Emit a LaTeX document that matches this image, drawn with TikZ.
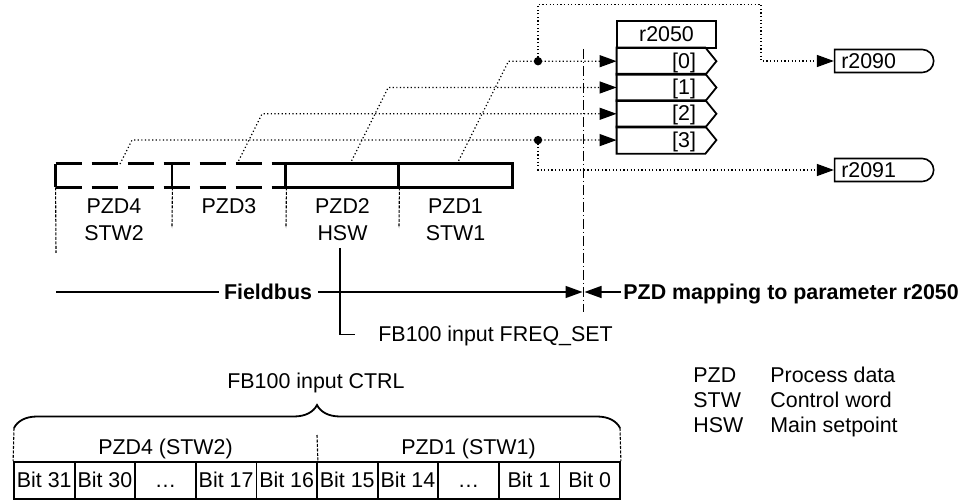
\documentclass[tikz,border=0pt]{standalone}
\usepackage{fontspec}
\setmainfont{Liberation Sans}
\usetikzlibrary{arrows.meta,decorations.pathreplacing,shapes.misc,calc}
\begin{document}
\begin{tikzpicture}[x=0.5pt,y=-0.5pt,
  every node/.style={font=\fontsize{10.7}{12.8}\selectfont, inner sep=0pt, text height=7.6pt, text depth=0.5pt},
  bold/.style={font=\fontsize{10.7}{12.8}\selectfont\bfseries},
  tip/.style={-{Triangle[length=8.5pt,width=6pt]}},
  dotline/.style={line width=0.6pt, dash pattern=on 0.6pt off 1.2pt},
  finedash/.style={line width=0.55pt, dash pattern=on 1.5pt off 0.75pt},
  cell/.style={rectangle, minimum height=11.5pt, draw=none},
  thickline/.style={line width=1.5pt},
  bigdash/.style={line width=1.5pt, dash pattern=on 13pt off 5pt},
  rowbox/.style={rectangle, minimum width=44pt, minimum height=13.2pt, draw=none},
  rowline/.style={line width=0.9pt, line join=miter},
  outbox/.style={rounded rectangle, rounded rectangle left arc=none, draw, line width=0.8pt, minimum width=49.5pt, minimum height=11.5pt},
  bitcell/.style={rectangle, draw, line width=0.9pt, minimum width=30.3pt, minimum height=18.5pt},
  dotnode/.style={circle, fill, inner sep=0pt, minimum size=4.2pt, text height=0pt, text depth=0pt},
  plain/.style={line width=0.7pt},
]
\useasboundingbox (0,0) rectangle (962,501);

% ---------- Fieldbus PZD cells ----------
\node[cell, minimum width=58pt] (p4) at (114,175.5) {};
\node[cell, minimum width=57pt] (p3) at (229,175.5) {};
\node[cell, minimum width=56.5pt] (p2) at (342.5,175.5) {};
\node[cell, minimum width=56.5pt] (p1) at (455.5,175.5) {};

\draw[bigdash] (p4.north west) -- (p3.north east);
\draw[bigdash] (p4.south west) -- (p3.south east);
\draw[thickline] (p4.north west) -- (p4.south west);
\draw[line width=1pt] (p4.north east) -- (p4.south east);
\draw[thickline] (p2.north west) rectangle (p1.south east);
\draw[thickline] (p1.north west) -- (p1.south west);

\coordinate (g4) at (56,253);
\coordinate (g3) at (172,228);
\coordinate (g2) at (286,228);
\coordinate (g1) at (399,228);
\draw[finedash] (p4.south west) -- (g4);
\draw[finedash] (p4.south east) -- (g3);
\draw[finedash] (p3.south east) -- (g2);
\draw[finedash] (p2.south east) -- (g1);

\node (l4a) at (114,206) {PZD4};
\node (l4b) at (114,233.5) {STW2};
\node (l3a) at (229,206) {PZD3};
\node (l2a) at (342.5,206) {PZD2};
\node (l2b) at (342.5,233.5) {HSW};
\node (l1a) at (455.5,206) {PZD1};
\node (l1b) at (455.5,233.5) {STW1};

% ---------- r2050 block ----------
\node[rectangle, draw, line width=1.4pt, minimum width=49.5pt, minimum height=13.5pt] (hd) at (666.5,34.5) {r2050};
\foreach \i/\y in {0/61.2,1/87.5,2/113.8,3/140.1}{
  \node[rowbox] (r\i) at (661,\y) {};
  \draw[rowline] (r\i.north west) -- (r\i.north east) -- ([xshift=5.5pt]r\i.east) -- (r\i.south east) -- (r\i.south west) -- cycle;
  \node[anchor=east] (n\i) at ([xshift=-4.5pt]r\i.east) {[\i]};
}

% ---------- diagonal dotted connectors ----------
\coordinate (t1) at (457,164);
\coordinate (t2) at (350,164);
\coordinate (t3) at (237,164);
\coordinate (t4) at (120,164);
\coordinate (s0) at (508.5,61.2);
\coordinate (s1) at (388.2,87.5);
\coordinate (s2) at (262.1,113.8);
\coordinate (s3) at (132,140.1);
\draw[dotline, tip] (t1) -- (s0) -- (r0.west);
\draw[dotline, tip] (t2) -- (s1) -- (r1.west);
\draw[dotline, tip] (t3) -- (s2) -- (r2.west);
\draw[dotline, tip] (t4) -- (s3) -- (r3.west);

% ---------- outputs ----------
\node[outbox] (o90) at (882.5,61) {};
\node[anchor=west] (o90t) at ([xshift=3.5pt]o90.west) {r2090};
\node[outbox] (o91) at (882.5,170) {};
\node[anchor=west] (o91t) at ([xshift=3.5pt]o91.west) {r2091};

\node[dotnode] (j0) at (538,61.2) {};
\node[dotnode] (j3) at (538,140.1) {};
\coordinate (k2) at (761,4.3);
\draw[dotline, tip] (j0.center) |- (k2) |- (o90.west);
\draw[dotline, tip] (j3.center) |- (o91.west);

% ---------- separating dash-dot line ----------
\coordinate (v1) at (583.5,49);
\coordinate (v2) at (583.5,312);
\draw[line width=0.6pt, dash pattern=on 5pt off 1.5pt on 0.5pt off 1.5pt] (v1) -- (v2);

% ---------- Fieldbus / mapping line ----------
\coordinate (fl) at (56,292);
\coordinate (m1) at (582.5,292);
\coordinate (m2) at (584.5,292);
\node[bold] (fb) at (268,292) {Fieldbus};
\node[bold, anchor=west] (pm) at (623,292) {PZD mapping to parameter r2050};
\draw[plain] (fl) -- ([xshift=-2.5pt]fb.west);
\draw[plain, tip] ([xshift=3pt]fb.east) -- (m1);
\draw[plain, tip] ([xshift=-1pt]pm.west) -- (m2);

% ---------- FREQ_SET ----------
\coordinate (h1) at (340,248);
\node[anchor=west] (fq) at (378,334.5) {FB100 input FREQ\_SET};
\draw[line width=0.9pt] (h1) |- ([xshift=-11.5pt]fq.west);

% ---------- CTRL bit table ----------
\node (ctrl) at (316,381.5) {FB100 input CTRL};
\coordinate (bl) at (14,428);
\coordinate (br) at (620,428);
\draw[line width=0.9pt, decorate, decoration={brace, amplitude=11.5pt}] (bl) -- (br);

\foreach \t [count=\k] in {Bit 31,Bit 30,…,Bit 17,Bit 16,Bit 15,Bit 14,…,Bit 1,Bit 0}{
  \node[bitcell] (c\k) at ({14+60.6*(\k-0.5)},480.5) {\t};
}
\coordinate (bm) at (317,435);
\draw[finedash] (bl) -- (c1.north west);
\draw[finedash] (bm) -- (c5.north east);
\draw[finedash] (br) -- (c10.north east);
\node (w4) at (165.5,447) {PZD4 (STW2)};
\node (w1) at (468.5,447) {PZD1 (STW1)};

% ---------- legend ----------
\node[anchor=west] (ga) at (693,375.5) {PZD};
\node[anchor=west] (gb) at (693,400.5) {STW};
\node[anchor=west] (gc) at (693,425.5) {HSW};
\node[anchor=west] (da) at (770,375.5) {Process data};
\node[anchor=west] (db) at (770,400.5) {Control word};
\node[anchor=west] (dc) at (770,425.5) {Main setpoint};
\end{tikzpicture}
\end{document}
